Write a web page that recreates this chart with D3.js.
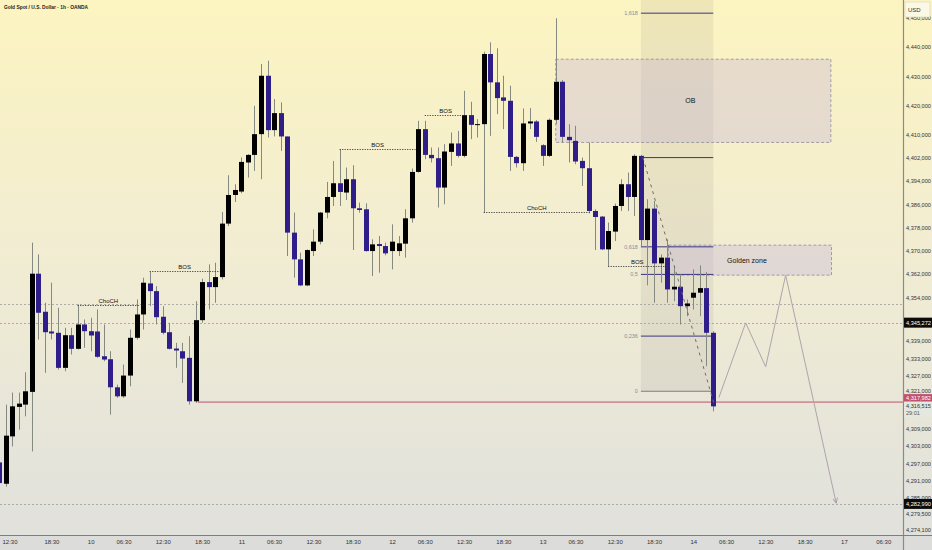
<!DOCTYPE html>
<html><head><meta charset="utf-8">
<script src="https://cdn.jsdelivr.net/npm/d3@7"></script>
<style>html,body{margin:0;padding:0;background:#fff;overflow:hidden}svg{display:block;font-family:"Liberation Sans",Arial,sans-serif}</style>
</head><body><svg id="c" width="932" height="550"></svg>
<script>
// ---------- data ----------
const startIndex = -14; // bar index of first candle (index 0 = first bar of day "10")
const opens  = [4297.24,4289.91,4306.19,4316.32,4317.11,4321.48,4362.10,4349.02,4342.24,4341.79,4329.74,4340.96,4336.28,4344.65,4342.34,4342.24,4333.73,4332.70,4323.06,4319.96,4327.09,4340.07,4348.09,4358.76,4356.11,4347.30,4341.99,4336.38,4335.45,4333.18,4318.24,4346.13,4359.21,4357.49,4360.93,4379.31,4389.15,4390.32,4400.31,4402.92,4410.05,4430.12,4411.43,4417.28,4409.26,4376.21,4367.02,4358.07,4369.88,4373.11,4383.10,4388.47,4393.18,4389.98,4394.56,4384.58,4384.23,4369.88,4372.29,4371.60,4369.88,4369.88,4372.42,4381.13,4397.07,4411.77,4402.92,4401.79,4391.70,4403.96,4406.85,4402.58,4416.59,4413.50,4413.49,4437.59,4427.85,4422.68,4421.51,4402.23,4400.07,4413.73,4414.42,4406.26,4402.58,4414.97,4428.05,4409.12,4407.74,4400.86,4398.35,4383.65,4381.72,4370.46,4376.56,4385.37,4392.84,4388.47,4402.58,4373.66,4384.47,4365.64,4367.61,4356.69,4357.62,4350.94,4353.84,4355.56,4357.14,4341.79];
const highs  = [4299.90,4317.11,4321.24,4321.24,4328.23,4372.77,4368.74,4352.12,4359.00,4350.39,4343.51,4343.51,4351.53,4346.37,4346.95,4349.81,4344.65,4335.45,4323.99,4330.88,4342.92,4353.25,4360.72,4362.65,4357.83,4350.94,4345.23,4338.35,4338.35,4340.62,4352.67,4360.38,4365.30,4365.88,4383.30,4395.94,4392.84,4402.03,4403.16,4419.79,4434.15,4435.28,4422.10,4420.96,4409.26,4383.10,4369.33,4370.46,4377.35,4383.30,4393.63,4400.86,4404.89,4398.59,4399.38,4386.54,4386.30,4373.90,4375.04,4372.77,4379.07,4375.04,4384.23,4398.24,4414.63,4414.63,4405.47,4405.47,4406.61,4410.63,4411.18,4424.95,4421.17,4415.21,4438.38,4441.61,4439.55,4430.12,4426.68,4402.58,4418.90,4419.00,4414.87,4406.61,4415.45,4449.88,4428.64,4413.49,4412.91,4402.03,4407.19,4384.23,4381.93,4379.65,4386.19,4394.56,4396.86,4403.16,4402.92,4387.67,4387.09,4368.74,4373.90,4364.71,4361.86,4353.25,4363.58,4364.95,4362.65,4342.34];
const lows   = [4288.88,4288.88,4302.75,4308.50,4313.08,4301.03,4339.48,4328.02,4339.48,4329.15,4328.57,4334.32,4336.04,4336.63,4335.45,4333.18,4332.01,4313.66,4319.41,4319.41,4323.41,4339.48,4342.92,4350.94,4344.65,4341.20,4336.04,4329.74,4324.58,4317.11,4317.69,4345.23,4349.81,4352.12,4360.14,4378.48,4386.74,4389.74,4395.14,4397.42,4394.56,4408.91,4409.26,4404.30,4368.16,4360.72,4357.83,4357.83,4368.16,4372.18,4381.13,4385.37,4385.37,4387.43,4370.22,4383.10,4369.67,4361.27,4362.44,4368.40,4363.58,4368.16,4367.60,4379.65,4396.86,4401.44,4400.31,4384.82,4385.95,4399.14,4402.03,4402.03,4408.33,4408.91,4383.10,4409.46,4416.93,4411.77,4397.42,4398.59,4397.42,4411.77,4407.40,4399.14,4402.23,4413.49,4407.19,4400.31,4399.72,4392.25,4382.85,4370.22,4370.22,4364.71,4373.32,4383.65,4383.65,4381.93,4371.60,4358.07,4352.12,4359.00,4352.12,4352.67,4344.65,4347.50,4349.81,4347.50,4330.29,4314.80];
const closes = [4290.15,4306.44,4316.52,4317.45,4321.69,4362.10,4348.67,4341.99,4341.55,4329.74,4340.96,4336.28,4344.65,4342.34,4340.86,4333.53,4332.60,4323.06,4319.96,4327.09,4340.07,4348.09,4359.00,4356.11,4347.16,4341.79,4336.28,4335.70,4332.94,4318.24,4346.13,4359.21,4357.49,4360.93,4379.31,4389.15,4390.87,4400.51,4402.92,4410.05,4430.12,4411.43,4417.28,4409.26,4376.21,4367.02,4358.07,4370.22,4373.11,4383.10,4388.47,4393.18,4390.19,4394.56,4384.58,4383.99,4369.88,4372.18,4371.60,4369.09,4373.11,4372.53,4381.13,4397.07,4411.77,4402.92,4401.79,4391.70,4404.09,4406.85,4402.58,4416.59,4413.25,4413.50,4437.59,4427.85,4422.44,4421.51,4402.23,4400.07,4413.73,4414.42,4409.12,4402.58,4414.97,4428.05,4409.12,4407.98,4400.65,4398.35,4383.65,4381.58,4370.46,4376.76,4385.37,4392.84,4388.47,4402.58,4373.66,4384.47,4365.64,4367.61,4356.69,4357.62,4350.94,4351.87,4355.56,4357.14,4341.79,4316.52];

const priceTicks  = [4450,4440,4430,4420,4410,4402,4394,4386,4378,4370,4362,4354,4339,4333,4327,4321,4309,4303,4297,4291,4285,4279.5,4274.1];
const priceLabels = ["4,450,000","4,440,000","4,430,000","4,420,000","4,410,000","4,402,000","4,394,000","4,386,000","4,378,000","4,370,000","4,362,000","4,354,000","4,339,000","4,333,000","4,327,000","4,321,000","4,309,000","4,303,000","4,297,000","4,291,000","4,285,000","4,279,500","4,274,100"];
const timeTicks  = [-12.4,-6,0,5,11,17,23,28,34,40,46,51,57,63,69,74,80,86,92,97,103,109,115,121];
const timeLabels = ["12:30","18:30","10","06:30","12:30","18:30","11","06:30","12:30","18:30","12","06:30","12:30","18:30","13","06:30","12:30","18:30","14","06:30","12:30","18:30","17","06:30"];

// structure annotations: [label, fromIndex, toIndex, price]
const structureLines = [["ChoCH",-2,7.4,4351.4],["BOS",9,19.7,4362.9],["BOS",38,49.6,4405.0],["BOS",51,57.4,4416.8],["ChoCH",60,76.2,4383.2],["BOS",79,87.9,4364.9]];
const obZone = {from:71, to:113, top:4435.8, bottom:4407.2, label:"OB"};
const goldenZone = {from:88.2, to:113.1, top:4371.9, bottom:4361.6, label:"Golden zone"};
const fibFrom = 84, fibTo = 95.05, fib0 = 4321.7, fib1 = 4402.0;
const fibLevels = [0,0.236,0.5,0.618,1,1.618];
const fibLabels = ["0","0,236","0,5","0,618","","1,618"];
const projection = [[95.9,4319.5],[100,4345.2],[103.05,4330.1],[106.1,4361.6],[113.8,4283.4]];
const hLines = [4351.6,4345.272,4282.99];
const redLevel = {from:16, price:4317.982, label:"4,317,982"};
const lastPrice = {price:4316.515, label:"4,316,515", timer:"29:01"};
const markedLabels = [[4345.272,"4,345,272"],[4282.99,"4,282,990"]];

// ---------- layout ----------
const W=932,H=550,paneR=903,paneB=535;
const x = d3.scaleLinear().domain([0,92]).range([90.7,693.3]);
const y = d3.scaleLinear().domain([4440,4274.1]).range([47,529.77]);
const svg = d3.select("#c");
const defs = svg.append("defs");
const g1 = defs.append("linearGradient").attr("id","bg").attr("x1",0).attr("y1",0).attr("x2",0).attr("y2",1);
g1.append("stop").attr("offset","0%").attr("stop-color","#fcf4c0");
g1.append("stop").attr("offset","45%").attr("stop-color","#f2edd2");
g1.append("stop").attr("offset","100%").attr("stop-color","#e1e1dd");
defs.append("clipPath").attr("id","pane").append("rect").attr("x",0).attr("y",0).attr("width",paneR).attr("height",paneB);
const mk = defs.append("marker").attr("id","arr").attr("viewBox","0 0 10 10").attr("refX",8).attr("refY",5).attr("markerWidth",6).attr("markerHeight",6).attr("orient","auto");
mk.append("path").attr("d","M0,1 L9,5 L0,9").attr("fill","none").attr("stroke","#a898a4").attr("stroke-width",1.4);

svg.append("rect").attr("width",W).attr("height",paneB).attr("fill","url(#bg)");
svg.append("rect").attr("y",paneB).attr("width",W).attr("height",H-paneB).attr("fill","#dcdcda");

const pane = svg.append("g").attr("clip-path","url(#pane)");

// fib band
pane.append("rect").attr("x",x(fibFrom)).attr("y",0).attr("width",x(fibTo)-x(fibFrom)).attr("height",y(fib0)).attr("fill","rgba(120,110,110,0.10)");

// zones
[obZone,goldenZone].forEach(z=>{
  pane.append("rect").attr("x",x(z.from)).attr("y",y(z.top)).attr("width",x(z.to)-x(z.from)).attr("height",y(z.bottom)-y(z.top))
    .attr("fill","rgba(190,170,220,0.30)").attr("stroke","#8d8a9c").attr("stroke-width",0.8).attr("stroke-dasharray","3,2");
  pane.append("text").attr("x",(x(z.from)+x(z.to))/2-3).attr("y",(y(z.top)+y(z.bottom))/2+2.5).attr("text-anchor","middle")
    .attr("font-size",7).attr("fill","#111").text(z.label);
});

// horizontal dotted lines
hLines.forEach(p=>{
  pane.append("line").attr("x1",0).attr("x2",paneR).attr("y1",Math.round(y(p))+0.5).attr("y2",Math.round(y(p))+0.5)
    .attr("stroke","#9c9c9c").attr("stroke-width",0.8).attr("stroke-dasharray","2,2");
});
// red level
pane.append("line").attr("x1",x(redLevel.from)+2.5).attr("x2",paneR).attr("y1",y(redLevel.price)).attr("y2",y(redLevel.price))
  .attr("stroke","#c2506a").attr("stroke-width",1);

// fib lines
fibLevels.forEach((lv,k)=>{
  const p = fib0 + (fib1-fib0)*lv, yy = y(p);
  pane.append("line").attr("x1",x(fibFrom)).attr("x2",x(fibTo)).attr("y1",yy).attr("y2",yy)
    .attr("stroke", lv===0 ? "#7d7d7d" : "#3b3585").attr("stroke-width",1);
  if (fibLabels[k]) pane.append("text").attr("x",x(fibFrom)-3).attr("y",yy+2).attr("text-anchor","end")
    .attr("font-size",5.5).attr("fill","#8c8a98").text(fibLabels[k]);
});

// candles
const bars = opens.map((o,k)=>({i:startIndex+k,o,h:highs[k],l:lows[k],c:closes[k]}));
const cg = pane.append("g");
bars.forEach(b=>{
  const cx = Math.round(x(b.i));
  cg.append("line").attr("x1",cx+0.5).attr("x2",cx+0.5).attr("y1",y(b.h)).attr("y2",y(b.l)).attr("stroke","#858a80").attr("stroke-width",1);
  const up = b.c>=b.o;
  const top = y(Math.max(b.o,b.c)), bot = y(Math.min(b.o,b.c));
  cg.append("rect").attr("x",cx-2).attr("y",top).attr("width",5).attr("height",Math.max(1,bot-top))
    .attr("fill", up ? "#000000" : "#2f1d8a");
});

// fib diagonal
pane.append("line").attr("x1",x(84)+2).attr("y1",y(fib1)).attr("x2",x(95)+2).attr("y2",y(4316.3))
  .attr("stroke","#6e6e6e").attr("stroke-width",1).attr("stroke-dasharray","3,4");

// structure lines
structureLines.forEach(([lab,a,b,p])=>{
  const yy = Math.round(y(p))+0.5;
  pane.append("line").attr("x1",x(a)).attr("x2",x(b)).attr("y1",yy).attr("y2",yy)
    .attr("stroke","#333").attr("stroke-width",0.9).attr("stroke-dasharray","1.2,1.3");
  pane.append("text").attr("x",(x(a)+x(b))/2).attr("y",yy-3).attr("text-anchor","middle")
    .attr("font-size",6).attr("fill","#111").text(lab);
});

// projection
pane.append("path").attr("d",d3.line().x(d=>x(d[0])).y(d=>y(d[1]))(projection))
  .attr("fill","none").attr("stroke","#b0a2ac").attr("stroke-width",1).attr("marker-end","url(#arr)");

// axes frame
svg.append("line").attr("x1",paneR+0.5).attr("x2",paneR+0.5).attr("y1",0).attr("y2",H).attr("stroke","#8a8a8a").attr("stroke-width",1.2);
svg.append("line").attr("x1",0).attr("x2",W).attr("y1",paneB+0.5).attr("y2",paneB+0.5).attr("stroke","#7e7e7e").attr("stroke-width",1.2);

// price axis
const yAxis = d3.axisRight(y).tickValues(priceTicks).tickFormat((d,k)=>priceLabels[k]).tickSize(0).tickPadding(0);
const ya = svg.append("g").attr("transform",`translate(${paneR+3},0)`).call(yAxis);
ya.select(".domain").remove();
ya.selectAll("text").attr("font-size",6).attr("fill","#333").attr("font-family","Liberation Sans, Arial, sans-serif")
  .attr("textLength",25).attr("lengthAdjust","spacingAndGlyphs");
// the label just above the red price tag is pushed up a little (it sits partly under the tag)
ya.selectAll(".tick").filter(d=>d===4321).select("text").attr("dy","-0.05em");

// time axis
const xAxis = d3.axisBottom(x).tickValues(timeTicks).tickFormat((d,k)=>timeLabels[k]).tickSize(0).tickPadding(0);
const xa = svg.append("g").attr("transform",`translate(0,${paneB+5})`).call(xAxis);
xa.select(".domain").remove();
xa.selectAll("text").attr("font-size",6).attr("fill","#333").attr("font-family","Liberation Sans, Arial, sans-serif");

// price label boxes
function box(yc, txt, bg, fg, h, fs){
  svg.append("rect").attr("x",paneR+1).attr("y",yc-h/2).attr("width",W-paneR-1).attr("height",h).attr("fill",bg);
  svg.append("text").attr("x",paneR+3).attr("y",yc+fs/3).attr("font-size",fs).attr("fill",fg)
    .attr("textLength",25).attr("lengthAdjust","spacingAndGlyphs").text(txt);
}
markedLabels.forEach(([p,t])=>box(y(p),t,"#0b0b0b","#fff",10,6));
const ly = y(lastPrice.price);
box(ly-8.5, redLevel.label, "#c0526c", "#fff", 7.5, 5.5);
// last price (with countdown)
svg.append("rect").attr("x",paneR+1).attr("y",ly-4.5).attr("width",W-paneR-1).attr("height",15.5).attr("fill","#e4e8df");
svg.append("text").attr("x",paneR+3).attr("y",ly+2).attr("font-size",5.5).attr("fill","#333")
  .attr("textLength",25).attr("lengthAdjust","spacingAndGlyphs").text(lastPrice.label);
svg.append("text").attr("x",paneR+3).attr("y",ly+9).attr("font-size",5.5).attr("fill","#555").text(lastPrice.timer);

// USD box
svg.append("rect").attr("x",paneR+2).attr("y",2).attr("width",25).attr("height",15).attr("fill","#fbf8e6").attr("stroke","#d8d4bc").attr("stroke-width",0.6);
svg.append("text").attr("x",paneR+5).attr("y",12).attr("font-size",6).attr("fill","#333").text("USD");

// title
svg.append("text").attr("x",4).attr("y",9).attr("font-size",6).attr("font-weight","bold").attr("fill","#222")
  .attr("textLength",84).attr("lengthAdjust","spacingAndGlyphs")
  .text("Gold Spot / U.S. Dollar · 1h · OANDA");
</script></body></html>
